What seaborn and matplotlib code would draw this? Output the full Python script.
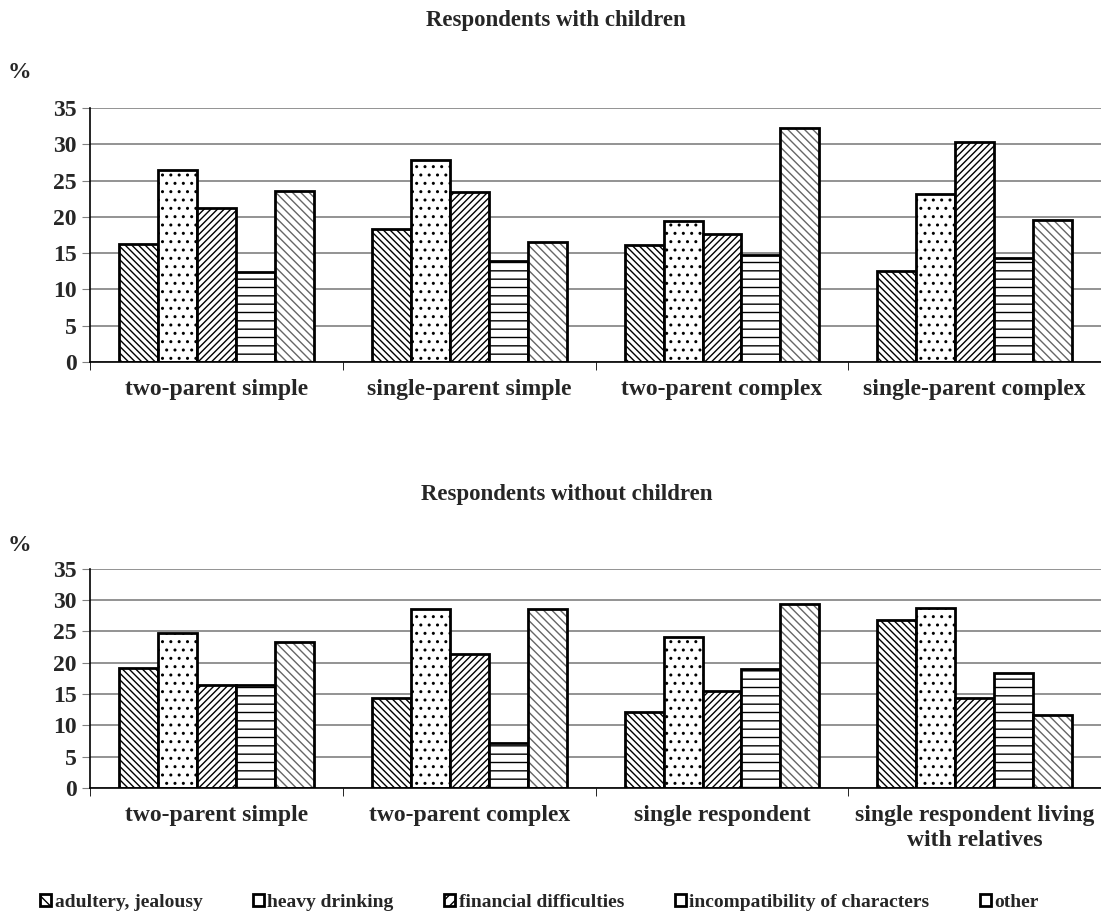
import pandas as pd
import matplotlib.pyplot as plt
import matplotlib.colors as mcolors
import seaborn as sns

reasons = ["adultery, jealousy", "heavy drinking", "financial difficulties",
           "incompatibility of characters", "other"]

with_children_groups = ["two-parent simple", "single-parent simple",
                        "two-parent complex", "single-parent complex"]
with_children_values = [
    [16.3, 26.5, 21.2, 12.4, 23.6],
    [18.3, 27.8, 23.4, 13.9, 16.6],
    [16.1, 19.4, 17.7, 14.7, 32.3],
    [12.5, 23.2, 30.3, 14.3, 19.6],
]

without_children_groups = ["two-parent simple", "two-parent complex",
                           "single respondent",
                           "single respondent living\nwith relatives"]
without_children_values = [
    [19.2, 24.7, 16.4, 16.4, 23.3],
    [14.3, 28.5, 21.4, 7.1, 28.5],
    [12.1, 24.1, 15.5, 19.0, 29.3],
    [26.9, 28.8, 14.4, 18.3, 11.6],
]

hatches = ["\\\\\\\\\\", "..", "/////", "--", "\\\\\\\\"]
hatch_colors = ["black", "black", "black", "black", "#666666"]
legend_hatches = ["\\\\\\", "", "///", "-", ""]


def make_df(groups, values):
    rows = []
    for g, vals in zip(groups, values):
        for r, v in zip(reasons, vals):
            rows.append({"group": g, "reason": r, "pct": v})
    return pd.DataFrame(rows)


def style_hatch(patch, h, c):
    patch.set_hatch(h)
    patch.set_facecolor("white")
    if hasattr(patch, "set_hatchcolor"):
        patch.set_hatchcolor(c)
    else:
        patch._hatch_color = mcolors.to_rgba(c)


sns.set_style("white")
plt.rcParams["font.family"] = ["Liberation Serif", "DejaVu Serif"]
plt.rcParams["font.weight"] = "bold"
plt.rcParams["hatch.linewidth"] = 1.0

fig = plt.figure(figsize=(11.01, 9.13), dpi=100)
ax1 = fig.add_axes([0.082, 0.6035, 0.918, 0.278])
ax2 = fig.add_axes([0.082, 0.137, 0.918, 0.240])


def draw(ax, groups, values):
    df = make_df(groups, values)
    sns.barplot(data=df, x="group", y="pct", hue="reason", order=groups,
                hue_order=reasons, color="white", edgecolor="black",
                linewidth=2, width=0.77, gap=0, legend=False, ax=ax)
    for cont, h, c in zip(ax.containers, hatches, hatch_colors):
        for bar in cont:
            style_hatch(bar, h, c)
    ax.set_ylim(0, 35)
    ax.set_xlim(-0.5, 3.5)
    ax.set_yticks(range(0, 36, 5))
    ax.yaxis.grid(True, color="#808080", linewidth=1.2)
    ax.set_axisbelow(True)
    ax.set_xlabel("")
    ax.set_ylabel("")
    for s in ["top", "right"]:
        ax.spines[s].set_visible(False)
    ax.spines["left"].set_color("black")
    ax.spines["bottom"].set_color("black")
    ax.spines["left"].set_linewidth(1.2)
    ax.spines["bottom"].set_linewidth(1.2)
    ax.set_xticks([-0.5, 0.5, 1.5, 2.5], minor=True)
    ax.tick_params(axis="x", which="minor", length=6, direction="out",
                   color="black", bottom=True)
    ax.tick_params(axis="x", which="major", length=0, pad=12, labelsize=17)
    ax.tick_params(axis="y", length=6, direction="out", color="#808080",
                   left=True, labelsize=17, pad=4)
    for t in ax.get_xticklabels() + ax.get_yticklabels():
        t.set_fontweight("bold")


draw(ax1, with_children_groups, with_children_values)
draw(ax2, without_children_groups, without_children_values)
for t in ax2.get_xticklabels():
    t.set_linespacing(1.25)

fig.text(0.505, 0.978, "Respondents with children", ha="center",
         va="center", fontsize=16.5, fontweight="bold")
fig.text(0.018, 0.921, "%", ha="center", va="center", fontsize=17,
         fontweight="bold")
fig.text(0.515, 0.458, "Respondents without children", ha="center",
         va="center", fontsize=16.5, fontweight="bold")
fig.text(0.018, 0.403, "%", ha="center", va="center", fontsize=17,
         fontweight="bold")

handles = []
for h in legend_hatches:
    p = plt.Rectangle((0, 0), 1, 1, facecolor="white", edgecolor="black",
                      linewidth=2, hatch=h)
    handles.append(p)
fig.legend(handles, reasons, loc="center", bbox_to_anchor=(0.49, 0.012),
           ncol=5, frameon=False, handlelength=0.55, handleheight=0.55,
           handletextpad=0.2, columnspacing=2.6,
           prop={"weight": "bold", "size": 14})

fig.savefig("out.png", dpi=100)
